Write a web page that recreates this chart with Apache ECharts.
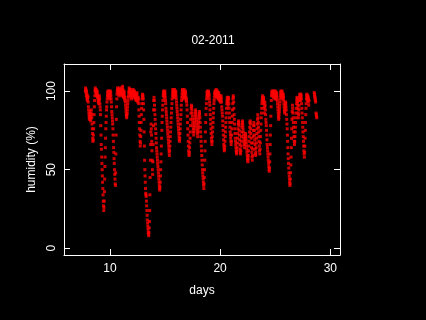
<!DOCTYPE html>
<html>
<head>
<meta charset="utf-8">
<script src="https://cdn.jsdelivr.net/npm/echarts@6/dist/echarts.min.js"></script>
<style>
  html, body { margin: 0; padding: 0; background: #000; }
  #chart { width: 426px; height: 320px; }
</style>
</head>
<body>
<div id="chart"></div>
<script>
const title = '02-2011';
const xName = 'days';
const yName = 'humidity (%)';
const xTicks = [10, 20, 30];
const yTicks = [0, 50, 100];

// half-hourly relative humidity, one array per day of the month (index = half hour)
const N = null;
const rh07 = [N, N, N, N, N, N, N, N, N, N, N, N, N, N, N, N, N, N, N, N, N, N, N, N,
  N, N, N, N, N, N, N, N, N, N, N, N, N, 100, 102, 101, 99, 97, 100, 98, 95, 96, 94, 97];
const rh08 = [96, 93, 90, 88, 86, 84, 82, 83, 85, 87, 84, 82, 81, 83, 86, 88, 85, 83,
  79, 76, 73, 70, 68, 69, 72, 76, 80, 85,
  90, 94, 97, 100, 102, 101, 99, 100, 101, 98, 97, 99, 100, 98, 96, 97, 95, 93, 94, 92];
const rh09 = [96, 94, 97, 95, 92, 90, 88, 85,
  78, 72, 66, 63, 58, 54, 50, 46, 42, 38, 34, 30, 27, 24,
  26, 30, 36, 44, 52, 58, 64, 70, 76, 80, 84, 88,
  90, 93, 95, 97, 99, 100, 98, 96, 97, 99, 100, 98, 97, 95];
const rh10 = [96, 98, 100, 99, 97, 95, 93, 90,
  87, 85, 83, 81, 79, 76, 72, 68, 64, 61, 57, 54, 50, 47, 44, 41, 40,
  48, 60, 72, 82, 90,
  95, 98, 100, 102, 101, 99, 100, 101, 99, 97, 98, 100, 102, 101, 99, 98, 100, 99];
const rh11 = [100, 101, 99, 97, 98, 100, 102, 103, 101, 99, 97, 96, 98, 100, 99, 97, 95, 96, 94, 93,
  91, 89, 87, 85, 84, 83, 85, 86, 88, 90, 92, 94, 96, 97,
  99, 100, 102, 101, 99, 98, 100, 101, 99, 97, 98, 96, 95, 97];
const rh12 = [99, 100, 98, 97, 99, 101, 100, 98, 96, 97, 99, 100, 98, 96, 95, 97, 98, 96, 94, 95,
  97, 99, 98, 96, 95, 93, 94, 96, 95,
  92, 88, 84, 80, 76, 72, 68, 65, 67, 71, 75, 80, 85, 89,
  92, 95, 97, 98, 96];
const rh13 = [97, 95, 92, 88, 82, 74, 65,
  56, 50, 46, 42, 38, 35, 34, 33, 30, 27, 24, 21, 18, 16, 14, 12, 10, 9, 8, 10, 13, 17,
  24, 34, 45, 56, 66, 74, 79, 76,
  72, 68, 62, 56, 50, 47, 55, 66, 78, 88, 94];
const rh14 = [96, 94, 91, 88, 85, 82, 79,
  76, 73, 70, 67, 64, 62, 60, 58, 56, 54, 52, 50, 48, 46, 44, 42, 40, 38, 37, 39, 42, 46, 50, 55,
  60, 65, 70, 75, 80, 84, 88, 91, 94, 97, 99,
  100, 98, 96, 97, 99, 100];
const rh15 = [98, 96, 94, 92,
  89, 87, 85, 83, 81, 79, 77, 75, 73, 71, 69, 67, 65, 63, 61, 59, 62, 65, 68, 71, 74, 77, 80, 83, 86, 89, 92,
  95, 97, 99, 101, 100, 98, 96, 97, 99, 100, 101, 99, 97, 96, 98, 100, 99];
const rh16 = [97, 95, 93, 91,
  89, 87, 85, 83, 81, 79, 77, 75, 73, 71, 69, 68, 70, 73, 76, 79, 82, 85, 88, 91, 94, 96,
  98, 100, 101, 99, 97, 95, 96, 98, 100, 101, 99, 98, 96, 97, 99, 100, 98, 96, 94, 95, 93, 91];
const rh17 = [88, 84, 80, 76, 72, 68, 65, 62, 60, 59, 61, 64, 67,
  70, 74, 78, 82, 86, 89, 91, 90, 88, 86, 84, 82, 80, 78, 76,
  74, 72, 74, 76, 78, 80, 82, 84, 86, 88, 87, 85, 83, 81, 79, 77, 75, 73, 71, 74];
const rh18 = [76, 78, 80, 82, 84, 86,
  87, 85, 83, 80, 77, 74, 71, 68, 65, 62, 59, 56, 53, 50, 48, 46, 44, 42, 40, 38, 41, 45, 50, 56, 62,
  68, 74, 80, 85, 89, 92, 95, 97, 99, 100, 98, 96, 97, 99, 100, 99, 98];
const rh19 = [97, 95, 93, 91,
  88, 85, 82, 79, 76, 73, 70, 68, 66, 68, 71, 74, 77, 80, 83, 86, 89, 92, 94, 96, 98,
  99, 100, 98, 97, 99, 100, 101, 99, 97, 96, 98, 100, 99, 97, 95, 96, 98, 99, 97, 95, 94, 96, 97];
const rh20 = [95, 93, 94, 96, 97, 95, 93, 90, 88, 86,
  84, 81, 78, 75, 72, 69, 66, 64, 62, 63, 65, 68, 71, 74, 77, 80, 83,
  86, 89, 92, 94, 96, 95, 93, 91, 94, 96, 95, 92, 89, 86, 83, 80, 77, 74, 72, 70, 68];
const rh21 = [66, 68, 72, 76, 80, 84, 88, 92, 95, 97, 96, 93, 89, 85, 82, 79, 76, 73, 70, 68,
  66, 64, 62, 61, 60, 62, 64, 67, 70, 73, 76, 79, 81, 80, 78, 75, 72, 69, 66, 63,
  61, 60, 62, 65, 68, 71, 74, 77];
const rh22 = [79, 81, 80, 78, 76, 74, 72, 70, 68, 66, 64, 66, 68, 70, 72, 73, 71, 69, 67, 65,
  63, 61, 59, 57, 56, 55, 57, 59, 62, 65, 68, 71, 74, 77, 80, 81, 79, 76, 73, 70,
  67, 64, 61, 58, 56, 59, 63, 67];
const rh23 = [71, 75, 78, 80, 78, 75, 72, 69, 66, 63, 60, 59, 61, 64, 67, 70, 73, 76, 79, 82,
  85, 83, 80, 77, 74, 71, 68, 65, 62, 60, 63, 67, 71, 75, 79, 83, 86, 89, 92, 94,
  96, 97, 95, 93, 94, 96, 95, 92];
const rh24 = [89, 86, 90, 93, 91, 88, 85, 82,
  80, 78, 75, 72, 69, 66, 64, 62, 60, 58, 56, 54, 52, 50, 49, 51, 55, 60, 66, 72, 78, 84, 90,
  94, 97, 99, 100, 98, 97, 99, 100, 98, 96, 97, 99, 100, 98, 96, 95, 97];
const rh25 = [99, 100, 98, 96, 95, 97, 99, 98, 96, 94, 92, 90, 88, 86, 84, 82, 83, 85, 87, 89,
  91, 93, 95, 97, 99, 100, 98, 96, 97, 99, 100, 98, 96, 95, 97, 98, 96, 94, 92, 90,
  88, 86, 87, 89, 91, 93, 92, 90];
const rh26 = [88, 85, 82, 79,
  76, 72, 68, 64, 60, 57, 54, 51, 48, 46, 44, 42, 40, 41, 44, 48, 53, 58, 64, 70, 76, 82, 87,
  91, 89, 86, 83, 80, 77, 74, 71, 68, 66, 68, 71, 74, 77, 80, 83, 86, 89, 92, 94, 96];
const rh27 = [95, 93, 91, 89, 86, 83, 85, 88, 91, 94,
  96, 98, 97, 95, 94, 96, 98, 97, 95, 92, 89,
  86, 83, 80, 77, 74, 71, 68, 65, 62, 60, 58, 61, 65, 70, 75,
  80, 85, 89, 92, 95, 97, 98, 96, 94, 95, 97, 96];
const rh28 = [95, 93, 91, 94, N, N, N, N, N, N, N, N, N, N, N, N, N, N, N, N, N, N, N, N, N, N,
  99, 98, 97, 96, 95, 94, 93, N, 86, 85, 84, 83];

const byDay = {7: rh07, 8: rh08, 9: rh09, 10: rh10, 11: rh11, 12: rh12, 13: rh13, 14: rh14,
  15: rh15, 16: rh16, 17: rh17, 18: rh18, 19: rh19, 20: rh20, 21: rh21, 22: rh22,
  23: rh23, 24: rh24, 25: rh25, 26: rh26, 27: rh27, 28: rh28};

// day + halfhour/48 -> x, humidity -> y
let points = [];
Object.keys(byDay).forEach(d => {
  byDay[d].forEach((v, i) => {
    if (v !== null) points.push([Number(d) + i / 48, v]);
  });
});

const font = 'Liberation Sans';
const white = '#ffffff';

function axisCommon(ticks) {
  return {
    type: 'value',
    splitLine: {show: false},
    axisLine: {show: true, onZero: false, lineStyle: {color: white, width: 1}},
    axisTick: {show: true, inside: true, length: 6, customValues: ticks, lineStyle: {color: white, width: 1}}
  };
}

const chart = echarts.init(document.getElementById('chart'));
chart.setOption({
  backgroundColor: '#000000',
  animation: false,
  title: {
    text: title,
    left: 'center',
    top: 30,
    textStyle: {color: white, fontSize: 12, fontWeight: 'normal', fontFamily: font}
  },
  grid: {left: 64, right: 86, top: 64, bottom: 65},
  xAxis: [
    Object.assign(axisCommon(xTicks), {
      min: 5.83, max: 30.88, position: 'bottom',
      axisLabel: {customValues: xTicks, color: white, fontSize: 12, fontFamily: font, margin: 8},
      name: xName, nameLocation: 'middle', nameGap: 30,
      nameTextStyle: {color: white, fontSize: 12, fontFamily: font}
    }),
    Object.assign(axisCommon(xTicks), {
      min: 5.83, max: 30.88, position: 'top',
      axisLabel: {show: false}
    })
  ],
  yAxis: [
    Object.assign(axisCommon(yTicks), {
      min: -4.27, max: 117.2, position: 'left',
      axisLabel: {customValues: yTicks, color: white, fontSize: 12, fontFamily: font, margin: 6, rotate: 90},
      name: yName, nameLocation: 'middle', nameGap: 21,
      nameTextStyle: {color: white, fontSize: 12, fontFamily: font}
    }),
    Object.assign(axisCommon(yTicks), {
      min: -4.27, max: 117.2, position: 'right',
      axisLabel: {show: false}
    })
  ],
  series: [{
    type: 'scatter',
    data: points,
    symbol: 'rect',
    symbolSize: 3,
    itemStyle: {color: '#ff0000'},
    silent: true
  }]
});
</script>
</body>
</html>
